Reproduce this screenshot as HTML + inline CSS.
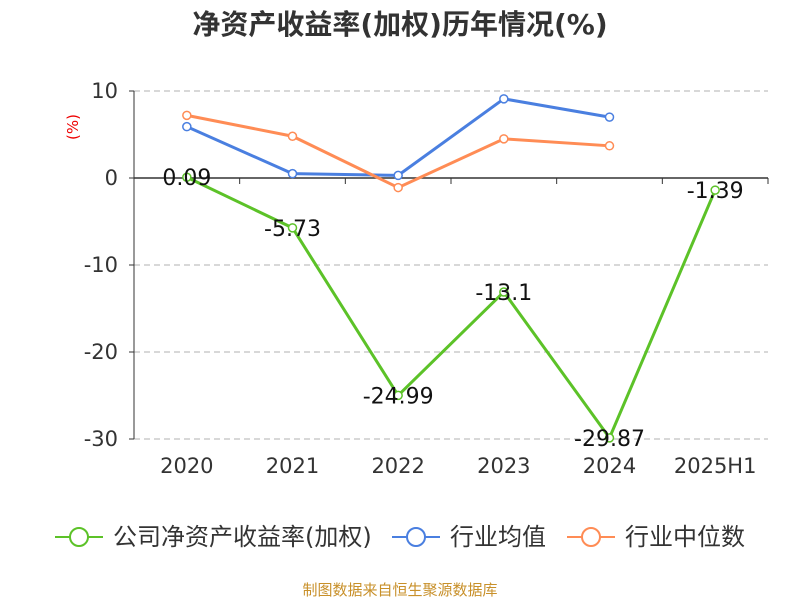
<!DOCTYPE html>
<html><head><meta charset="utf-8"><style>
body{margin:0;background:#fff;font-family:"DejaVu Sans","Noto Sans CJK SC",sans-serif;}
</style></head><body>
<svg id="chart" width="800" height="600" xmlns="http://www.w3.org/2000/svg" font-family="DejaVu Sans, Noto Sans CJK SC, sans-serif">
<text x="400" y="34" text-anchor="middle" font-size="28" font-weight="bold" fill="#333">净资产收益率(加权)历年情况(%)</text>
<text x="78" y="127" text-anchor="middle" font-size="15" fill="#e00" transform="rotate(-90 78 127)">(%)</text>
<g id="grid"></g><g id="axes"></g><g id="series"></g>
<g>
<g><line x1="55" y1="537" x2="103" y2="537" stroke="#5cc228" stroke-width="2"/><circle cx="79" cy="537" r="9" fill="#fff" stroke="#5cc228" stroke-width="2"/><text x="113" y="545" font-size="24" fill="#333">公司净资产收益率(加权)</text></g>
<g><line x1="392" y1="537" x2="440" y2="537" stroke="#4a7fe0" stroke-width="2"/><circle cx="416" cy="537" r="9" fill="#fff" stroke="#4a7fe0" stroke-width="2"/><text x="450" y="545" font-size="24" fill="#333">行业均值</text></g>
<g><line x1="567" y1="537" x2="615" y2="537" stroke="#ff8c55" stroke-width="2"/><circle cx="591" cy="537" r="9" fill="#fff" stroke="#ff8c55" stroke-width="2"/><text x="625" y="545" font-size="24" fill="#333">行业中位数</text></g>
</g>
<text x="400" y="595" text-anchor="middle" font-size="15" fill="#c8902a">制图数据来自恒生聚源数据库</text>
</svg>
<script>
const categories=["2020","2021","2022","2023","2024","2025H1"];
const companyVals=[0.09,-5.73,-24.99,-13.1,-29.87,-1.39];
const avgVals=[5.9,0.5,0.3,9.1,7.0];
const medianVals=[7.2,4.8,-1.1,4.5,3.7];
const yTicks=[10,0,-10,-20,-30];
const NS="http://www.w3.org/2000/svg";
const L=134,R=768;
const band=(R-L)/categories.length;
const x=i=>L+band*(i+0.5);
const y=v=>178-v*8.7;
function mk(p,t,a){const e=document.createElementNS(NS,t);for(const k in a)e.setAttribute(k,a[k]);p.appendChild(e);return e;}
const grid=document.getElementById('grid'),axes=document.getElementById('axes'),ser=document.getElementById('series');
yTicks.forEach(t=>{
 if(t!==0){const g=mk(grid,'line',{x1:L,x2:R,y1:y(t),y2:y(t),stroke:'#ccc','stroke-dasharray':'6,4','stroke-width':1.5});
 
 }
 const tl=mk(axes,'text',{x:118,y:y(t)+7,'text-anchor':'end','font-size':21,fill:'#333'});tl.textContent=t;
 
 
});
const yl=mk(axes,'line',{x1:L,x2:L,y1:y(10),y2:y(-30),stroke:'#333','stroke-width':1});


yTicks.forEach(t=>mk(axes,'line',{x1:L-5,x2:L,y1:y(t),y2:y(t),stroke:'#333'}));
const xl=mk(axes,'line',{x1:L,x2:R,y1:y(0),y2:y(0),stroke:'#333','stroke-width':1.5});


categories.forEach((c,i)=>{
 mk(axes,'line',{x1:L+band*(i+1),x2:L+band*(i+1),y1:y(0),y2:y(0)+6,stroke:'#333'});
 const t=mk(axes,'text',{x:x(i),y:473,'text-anchor':'middle','font-size':21,fill:'#333'});t.textContent=c;
 
 
});
function line(vals,color,name,labels){
 const g=mk(ser,'g',{});
 
 
 mk(g,'polyline',{points:vals.map((v,i)=>x(i)+','+y(v)).join(' '),fill:'none',stroke:color,'stroke-width':3});
 vals.forEach((v,i)=>{
  const c=mk(g,'circle',{cx:x(i),cy:y(v),r:4,fill:'#fff',stroke:color,'stroke-width':1.5});
  
  
  if(labels){const t=mk(g,'text',{x:x(i),y:y(v)+8,'text-anchor':'middle','font-size':22,fill:'#111'});t.textContent=v;
  
  }
 });
}
line(avgVals,'#4a7fe0','industry-avg-series',false);
line(medianVals,'#ff8c55','industry-median-series',false);
line(companyVals,'#5cc228','company-roe-series',true);
</script>
</body></html>
